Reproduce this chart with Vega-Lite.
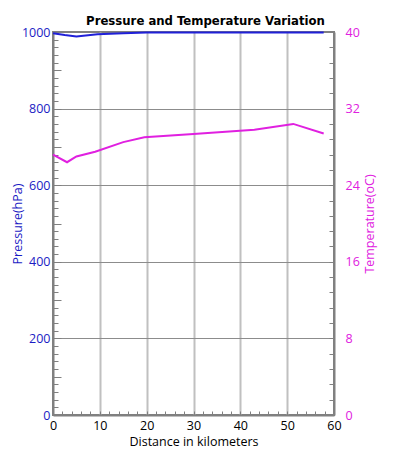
{
  "$schema": "https://vega.github.io/schema/vega-lite/v6.json",
  "width": 281,
  "height": 383,
  "autosize": {"type": "none"},
  "padding": {"left": 53, "top": 32, "right": 60, "bottom": 49},
  "config": {
    "view": {"stroke": "#808080", "strokeWidth": 2},
    "font": "Open Sans",
    "axis": {"domainColor": "#808080", "domainWidth": 2, "tickColor": "#808080", "labelFontSize": 12.5, "titleFontSize": 12.5, "titleFontWeight": "normal", "labelOverlap": false, "labelFlush": false, "format": "d"}
  },
  "title": {"text": "Pressure and Temperature Variation", "font": "DejaVu Sans Condensed", "fontWeight": "bold", "fontSize": 13, "color": "black", "offset": -2, "dx": 12, "anchor": "middle"},
  "encoding": {
    "x": {"field": "distance", "type": "quantitative", "scale": {"domain": [0, 60]},
      "axis": {"title": "Distance in kilometers", "values": [0,2,4,6,8,10,12,14,16,18,20,22,24,26,28,30,32,34,36,38,40,42,44,46,48,50,52,54,56,58,60],
        "labelExpr": "datum.value % 10 === 0 ? datum.label : ''",
        "tickSize": -4, "labelPadding": 8, "labelColor": "black", "titleColor": "black", "titlePadding": 4,
        "grid": true, "gridColor": "#c0c0c0", "gridWidth": 2,
        "gridOpacity": {"condition": {"test": "datum.value % 10 === 0 && datum.value > 0 && datum.value < 60", "value": 1}, "value": 0}}}
  },
  "layer": [
    {
      "data": {"values": [
        {"distance": 0, "pressure": 997},
        {"distance": 2.5, "pressure": 992},
        {"distance": 5, "pressure": 988},
        {"distance": 9.5, "pressure": 994},
        {"distance": 15, "pressure": 997},
        {"distance": 20, "pressure": 998.5},
        {"distance": 30, "pressure": 999},
        {"distance": 40, "pressure": 999},
        {"distance": 50, "pressure": 999},
        {"distance": 57.8, "pressure": 999}
      ]},
      "mark": {"type": "line", "color": "#2020d8", "strokeWidth": 2},
      "encoding": {
        "y": {"field": "pressure", "type": "quantitative", "scale": {"domain": [0, 1000]},
          "axis": {"title": "Pressure(hPa)", "values": [0,20,40,60,80,100,120,140,160,180,200,220,240,260,280,300,320,340,360,380,400,420,440,460,480,500,520,540,560,580,600,620,640,660,680,700,720,740,760,780,800,820,840,860,880,900,920,940,960,980,1000],
            "labelExpr": "datum.value % 200 === 0 ? datum.label : ''",
            "tickSize": {"condition": {"test": "datum.value % 100 === 0", "value": -8}, "value": -5},
            "labelPadding": 11, "labelColor": "#1c1cc4", "titleColor": "#1c1cc4", "titlePadding": -3,
            "grid": true, "gridColor": "#8c8c8c", "gridWidth": 1,
            "gridOpacity": {"condition": {"test": "datum.value % 200 === 0 && datum.value > 0 && datum.value < 1000", "value": 1}, "value": 0}}}
      }
    },
    {
      "data": {"values": [
        {"distance": 0, "temperature": 27.2},
        {"distance": 3, "temperature": 26.4},
        {"distance": 5, "temperature": 27.0},
        {"distance": 9, "temperature": 27.5},
        {"distance": 15, "temperature": 28.5},
        {"distance": 19.5, "temperature": 29.0},
        {"distance": 30, "temperature": 29.35},
        {"distance": 43, "temperature": 29.8},
        {"distance": 51.3, "temperature": 30.4},
        {"distance": 57.8, "temperature": 29.4}
      ]},
      "mark": {"type": "line", "color": "#e020e0", "strokeWidth": 2},
      "encoding": {
        "y": {"field": "temperature", "type": "quantitative", "scale": {"domain": [0, 40]},
          "axis": {"orient": "right", "title": "Temperature(oC)", "titleAngle": 270, "titleBaseline": "top",
            "values": [0,1.6,3.2,4.8,6.4,8,9.6,11.2,12.8,14.4,16,17.6,19.2,20.8,22.4,24,25.6,27.2,28.8,30.4,32,33.6,35.2,36.8,38.4,40],
            "labelExpr": "abs(datum.value/8 - round(datum.value/8)) < 0.001 ? datum.label : ''",
            "tickSize": -5, "labelPadding": 16, "labelColor": "#e020e0", "titleColor": "#e020e0", "titlePadding": 4, "grid": false}}
      }
    }
  ],
  "resolve": {"scale": {"y": "independent"}}
}
